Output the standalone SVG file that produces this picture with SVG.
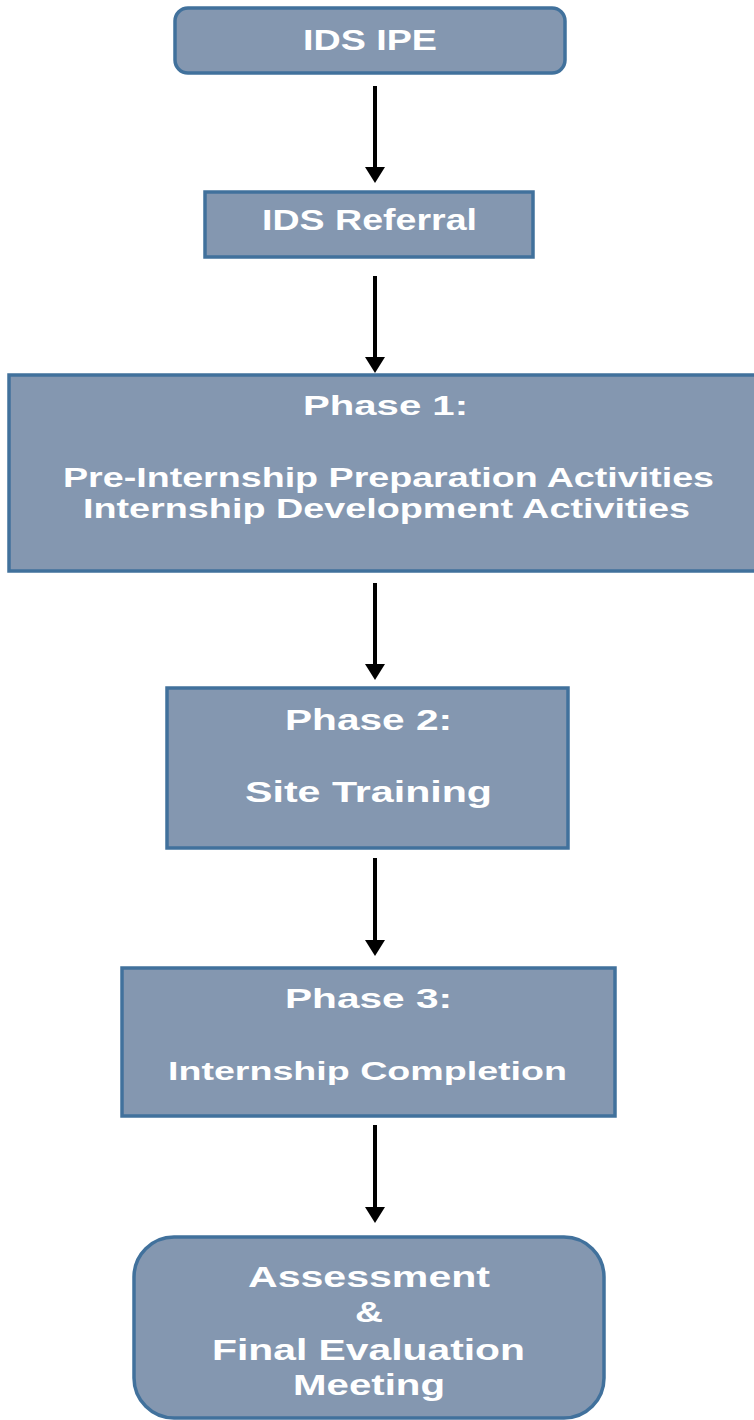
<svg xmlns="http://www.w3.org/2000/svg" width="754" height="1420" viewBox="0 0 754 1420">
<style>
.box{fill:#8497b0;stroke:#41719c;stroke-width:3.5}
.t{font-family:"Liberation Sans",Arial,sans-serif;font-weight:bold;fill:#ffffff;text-anchor:middle}
.c{stroke:#000000;stroke-width:4;fill:none}
</style>
<defs>
<marker id="ah" markerUnits="userSpaceOnUse" markerWidth="16" markerHeight="20" viewBox="0 0 16 20" refX="0" refY="10" orient="auto">
<path d="M0,0 L16,10 L0,20 Z" fill="#000000"/>
</marker>
</defs>
<rect width="754" height="1420" fill="#ffffff"/>
<g id="connectors">
<line class="c" x1="375" y1="86" x2="375" y2="167" marker-end="url(#ah)"/>
<line class="c" x1="375" y1="276" x2="375" y2="357" marker-end="url(#ah)"/>
<line class="c" x1="375" y1="583" x2="375" y2="664" marker-end="url(#ah)"/>
<line class="c" x1="375" y1="858" x2="375" y2="940" marker-end="url(#ah)"/>
<line class="c" x1="375" y1="1125" x2="375" y2="1207" marker-end="url(#ah)"/>
</g>
<g id="node-ids-ipe">
<rect class="box" x="175" y="8" width="390" height="65" rx="13"/>
<text class="t" x="370" y="50" font-size="30" textLength="134" lengthAdjust="spacingAndGlyphs">IDS IPE</text>
</g>
<g id="node-ids-referral">
<rect class="box" x="205" y="192" width="328" height="65"/>
<text class="t" x="369.5" y="230" font-size="30" textLength="215" lengthAdjust="spacingAndGlyphs">IDS Referral</text>
</g>
<g id="node-phase1">
<rect class="box" x="9" y="375" width="760" height="196"/>
<text class="t" x="385.5" y="415" font-size="28" textLength="165" lengthAdjust="spacingAndGlyphs">Phase 1:</text>
<text class="t" x="388.5" y="487" font-size="27" textLength="651" lengthAdjust="spacingAndGlyphs">Pre-Internship Preparation Activities</text>
<text class="t" x="386.5" y="518" font-size="27" textLength="607" lengthAdjust="spacingAndGlyphs">Internship Development Activities</text>
</g>
<g id="node-phase2">
<rect class="box" x="167" y="688" width="401" height="160"/>
<text class="t" x="368.5" y="730" font-size="30" textLength="167" lengthAdjust="spacingAndGlyphs">Phase 2:</text>
<text class="t" x="368.5" y="802" font-size="30" textLength="247" lengthAdjust="spacingAndGlyphs">Site Training</text>
</g>
<g id="node-phase3">
<rect class="box" x="122" y="968" width="493" height="148"/>
<text class="t" x="368.5" y="1008" font-size="28" textLength="167" lengthAdjust="spacingAndGlyphs">Phase 3:</text>
<text class="t" x="367.5" y="1080" font-size="26" textLength="399" lengthAdjust="spacingAndGlyphs">Internship Completion</text>
</g>
<g id="node-assessment">
<rect class="box" x="134" y="1237" width="470" height="181" rx="40"/>
<text class="t" x="369" y="1287" font-size="30" textLength="242" lengthAdjust="spacingAndGlyphs">Assessment</text>
<text class="t" x="369" y="1322" font-size="30" textLength="28" lengthAdjust="spacingAndGlyphs">&amp;</text>
<text class="t" x="368.5" y="1360" font-size="30" textLength="313" lengthAdjust="spacingAndGlyphs">Final Evaluation</text>
<text class="t" x="369" y="1395" font-size="30" textLength="152" lengthAdjust="spacingAndGlyphs">Meeting</text>
</g>
</svg>
